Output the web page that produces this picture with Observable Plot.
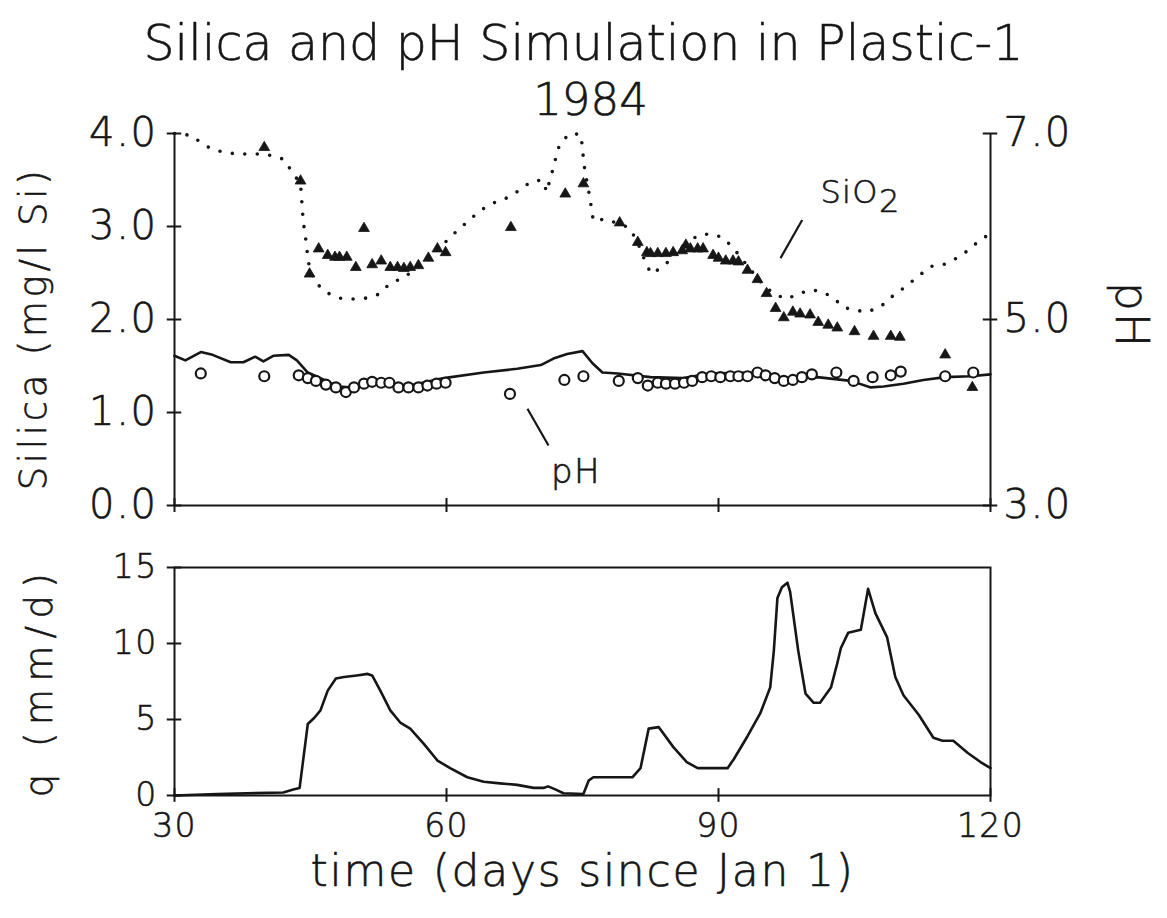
<!DOCTYPE html>
<html><head><meta charset="utf-8">
<script src="https://cdn.jsdelivr.net/npm/d3@7"></script>
<script src="https://cdn.jsdelivr.net/npm/@observablehq/plot@0.6"></script>
<style>
body{margin:0;background:#fff;width:1167px;height:918px;position:relative;overflow:hidden;font-family:"DejaVu Sans",sans-serif;color:#161616}
.hd{position:absolute;left:0;width:1167px;text-align:center;line-height:1;font-weight:200;z-index:2;-webkit-text-stroke:0.6px #161616}
#title{top:19px;font-size:49px}
#sub{top:77px;font-size:45px;padding-left:14px;box-sizing:border-box}
#topplot{position:absolute;left:0;top:110px;z-index:1}
#botplot{position:absolute;left:0;top:545px;z-index:1}
svg text{letter-spacing:0.04em;font-weight:200;stroke:#161616;stroke-width:0.6px}
</style></head>
<body>
<div id="topplot"></div>
<div id="botplot"></div>
<div id="title" class="hd">Silica and pH Simulation in Plastic-1</div>
<div id="sub" class="hd">1984</div>
<script>
// ---- data ----
const xTicks = [30, 60, 90, 120];
const siTicks = [0, 1, 2, 3, 4];
const phTicks = [3, 5, 7];
const qTicks = [0, 5, 10, 15];

// simulated SiO2 (mg/l Si), dotted
const siSimDay = [30,31.8,33.4,34.2,35.4,36.8,38.2,39.6,40.9,42.1,43.0,43.9,44.0,44.1,44.2,44.4,44.6,44.7,45.0,45.6,47.0,48.2,49.6,51.1,52.5,53.8,55.3,57.0,59.0,60.8,62.3,63.7,65.1,66.5,67.9,69.3,70.5,71.1,71.4,71.8,72.1,72.5,73.6,74.8,75.0,75.1,75.3,75.8,76.0,76.2,77.5,80.1,81.0,81.6,82.1,82.6,83.9,85.5,86.5,87.8,89.2,90.5,91.7,93.0,94.5,96.0,97.5,98.9,100.3,101.6,102.7,103.8,105.1,106.4,107.9,109.3,110.6,112.1,113.4,114.8,116.1,117.5,118.9,120];
const siSim    = [4.00,3.98,3.87,3.83,3.80,3.78,3.78,3.78,3.76,3.72,3.58,3.46,3.32,3.19,3.05,2.92,2.77,2.65,2.52,2.39,2.28,2.23,2.22,2.23,2.27,2.39,2.45,2.58,2.75,2.92,3.05,3.17,3.25,3.30,3.38,3.48,3.50,3.37,3.51,3.63,3.76,3.89,4.00,3.99,3.85,3.72,3.58,3.32,3.18,3.06,3.08,2.99,2.85,2.70,2.58,2.49,2.57,2.72,2.82,2.91,2.92,2.88,2.76,2.60,2.42,2.28,2.22,2.28,2.32,2.29,2.23,2.13,2.10,2.08,2.14,2.26,2.35,2.47,2.57,2.59,2.65,2.74,2.86,2.92];

// observed SiO2, triangles
const siObsDay = [39.9,43.9,44.9,45.9,46.9,47.7,48.2,49.0,50.0,50.9,51.8,52.8,53.8,54.6,55.3,56.0,56.9,58.0,59.0,59.9,67.1,73.1,75.1,79.1,81.1,82.1,82.5,83.3,84.2,85.0,86.0,86.4,86.9,87.7,88.3,89.4,90.0,90.8,91.6,92.2,93.2,94.3,95.3,96.3,97.2,98.2,99.0,100.1,101.0,102.1,103.1,105.0,107.1,109.0,110.0,115.0,118.0];
const siObs    = [3.85,3.49,2.49,2.76,2.69,2.67,2.67,2.67,2.56,2.98,2.59,2.63,2.56,2.56,2.55,2.56,2.58,2.66,2.76,2.72,2.99,3.35,3.46,3.04,2.83,2.72,2.71,2.71,2.71,2.72,2.74,2.80,2.76,2.76,2.76,2.69,2.66,2.63,2.63,2.62,2.53,2.43,2.28,2.12,2.02,2.08,2.06,2.05,1.97,1.94,1.91,1.87,1.82,1.82,1.81,1.62,1.27];

// simulated pH, solid
const phSimDay = [30,31.2,32.9,34.2,36.2,37.6,38.9,39.8,40.9,42.6,43.5,44.7,46.1,48.0,49.4,50.9,53.1,56.0,59.7,64.1,67.8,70.4,71.8,73.3,75.0,76.1,77.2,78.9,82.5,86.1,89.1,93.5,97.2,100.9,104.6,106.8,108.2,110.4,112.6,115.0,117.8,120];
const phSim    = [4.61,4.56,4.65,4.62,4.54,4.54,4.60,4.55,4.61,4.62,4.56,4.43,4.37,4.28,4.27,4.32,4.31,4.29,4.37,4.43,4.47,4.51,4.58,4.63,4.66,4.53,4.43,4.42,4.38,4.37,4.42,4.43,4.37,4.38,4.34,4.27,4.28,4.31,4.35,4.38,4.39,4.41];

// observed pH, circles
const phObsDay = [32.9,39.9,43.7,44.7,45.6,46.7,47.8,48.9,49.8,50.9,51.8,52.8,53.7,54.7,55.8,56.9,57.9,58.9,59.9,67.0,73.0,75.1,79.0,81.1,82.2,83.3,84.2,85.2,86.2,87.1,88.2,89.2,90.2,91.3,92.2,93.2,94.3,95.2,96.2,97.2,98.2,99.2,100.3,103.0,104.9,107.0,109.0,110.1,115.0,118.1];
const phObs    = [4.42,4.39,4.40,4.37,4.34,4.30,4.27,4.22,4.27,4.31,4.33,4.32,4.32,4.27,4.27,4.27,4.29,4.31,4.32,4.20,4.35,4.39,4.34,4.37,4.29,4.32,4.31,4.31,4.32,4.34,4.38,4.39,4.38,4.39,4.39,4.39,4.43,4.40,4.37,4.34,4.35,4.38,4.41,4.43,4.34,4.38,4.40,4.44,4.39,4.43];

// runoff q (mm/d)
const qDay = [30,34.7,42.0,43.1,43.8,44.7,45.4,46.1,46.9,47.8,48.7,50.1,51.3,51.8,52.7,53.8,54.9,56.0,57.5,59.0,60.4,62.3,64.1,65.9,67.8,69.6,70.7,71.2,72.0,72.9,75.1,75.7,76.2,80.5,81.4,82.3,83.4,85.0,86.5,87.7,89.1,91.0,91.7,93.2,94.6,95.7,96.1,96.5,97.0,97.6,97.9,98.8,99.6,100.5,101.2,102.4,103.1,103.5,104.3,105.7,106.5,107.3,108.6,109.5,110.4,112.1,113.7,114.7,115.9,117.5,118.9,120];
const qVal = [0,0.1,0.2,0.4,0.5,4.7,5.1,5.6,6.9,7.7,7.8,7.9,8.0,7.9,6.9,5.6,4.8,4.4,3.4,2.3,1.8,1.2,0.9,0.8,0.7,0.5,0.5,0.6,0.4,0.15,0.1,1.0,1.2,1.2,1.8,4.4,4.5,3.2,2.2,1.8,1.8,1.8,2.4,3.9,5.4,7.1,9.5,13.0,13.7,14.0,13.4,9.5,6.7,6.1,6.1,7.1,8.7,9.7,10.7,10.9,13.6,12.0,10.4,7.8,6.6,5.3,3.8,3.6,3.6,2.8,2.2,1.8];

// ---- tables ----
const siSimT = siSimDay.map((d,i)=>({day:d, v:siSim[i]}));
const siObsT = siObsDay.map((d,i)=>({day:d, v:siObs[i]}));
const phSimT = phSimDay.map((d,i)=>({day:d, v:phSim[i]}));
const phObsT = phObsDay.map((d,i)=>({day:d, v:phObs[i]}));
const qT = qDay.map((d,i)=>({day:d, v:qVal[i]}));

const INK = "#161616";
const FONT = "DejaVu Sans";
const phToY = v => v - 3; // pH axis (3–7) shares the silica scale (0–4)

function spaceText(chart, label, spacing) {
  d3.select(chart).selectAll("text")
    .filter(function() { return this.textContent === label; })
    .style("letter-spacing", spacing);
}

const topChart = Plot.plot({
  width: 1167, height: 420,
  marginTop: 23, marginBottom: 25, marginLeft: 174, marginRight: 177,
  style: {fontFamily: FONT, color: INK, background: "transparent", overflow: "visible"},
  x: {domain: [30, 120], axis: null},
  y: {domain: [0, 4]},
  marks: [
    Plot.ruleX([30, 120], {y1: 0, y2: 4, stroke: INK, strokeWidth: 2}),
    Plot.ruleY([0], {x1: 30, x2: 120, stroke: INK, strokeWidth: 2}),
    Plot.ruleY(siTicks, {y: d => d, x1: 29.2, x2: 30.8, stroke: INK, strokeWidth: 2}),
    Plot.ruleY(phTicks, {y: phToY, x1: 119.2, x2: 120.8, stroke: INK, strokeWidth: 2}),
    Plot.ruleX(xTicks, {x: d => d, y1: -0.075, y2: 0.075, stroke: INK, strokeWidth: 2}),
    Plot.axisY(siTicks, {anchor: "left", tickSize: 0, tickPadding: 17, fontSize: 40, tickFormat: d => d.toFixed(1), label: null}),
    Plot.axisY(phTicks.map(phToY), {anchor: "right", tickSize: 0, tickPadding: 13, fontSize: 40, tickFormat: d => (d + 3).toFixed(1), label: null}),
    Plot.text(["Silica (mg/l Si)"], {frameAnchor: "left", textAnchor: "middle", rotate: -90, dx: -140, dy: 9, fontSize: 37, fill: INK}),
    Plot.text(["pH"], {frameAnchor: "right", textAnchor: "middle", rotate: 90, dx: 140, dy: -4, fontSize: 46, fill: INK}),
    // simulated SiO2 – dotted
    Plot.line(siSimT, {x: "day", y: "v", stroke: INK, strokeWidth: 3.6, strokeDasharray: "0 12.5", strokeLinecap: "round"}),
    // simulated pH – solid
    Plot.line(phSimT, {x: "day", y: d => phToY(d.v), stroke: INK, strokeWidth: 2.6}),
    // observed pH – open circles
    Plot.dot(phObsT, {x: "day", y: d => phToY(d.v), r: 5, stroke: INK, strokeWidth: 2.2, fill: "white"}),
    // observed SiO2 – filled triangles
    Plot.dot(siObsT, {x: "day", y: "v", symbol: "triangle", r: 4, fill: INK, stroke: INK, strokeWidth: 0.8}),
    // annotations
    Plot.link([{x1: 99.23, y1: 3.07, x2: 96.84, y2: 2.66}], {x1: "x1", y1: "y1", x2: "x2", y2: "y2", stroke: INK, strokeWidth: 2.2}),
    Plot.text(["SiO"], {x: 101.25, y: 3.36, textAnchor: "start", lineAnchor: "middle", fontSize: 32, fill: INK}),
    Plot.text(["2"], {x: 107.7, y: 3.27, textAnchor: "start", lineAnchor: "middle", fontSize: 32, fill: INK}),
    Plot.link([{x1: 68.93, y1: 1.04, x2: 71.25, y2: 0.645}], {x1: "x1", y1: "y1", x2: "x2", y2: "y2", stroke: INK, strokeWidth: 2.2}),
    Plot.text(["pH"], {x: 74.28, y: 0.36, textAnchor: "middle", lineAnchor: "middle", fontSize: 34, fill: INK})
  ]
});
spaceText(topChart, "Silica (mg/l Si)", "0.1em");
document.getElementById("topplot").append(topChart);

const botChart = Plot.plot({
  width: 1167, height: 373,
  marginTop: 22, marginBottom: 123, marginLeft: 174, marginRight: 177,
  style: {fontFamily: FONT, color: INK, background: "transparent", overflow: "visible"},
  x: {domain: [30, 120]},
  y: {domain: [0, 15]},
  marks: [
    Plot.frame({stroke: INK, strokeWidth: 2}),
    Plot.ruleY(qTicks, {y: d => d, x1: 29.2, x2: 30.8, stroke: INK, strokeWidth: 2}),
    Plot.ruleX(xTicks, {x: d => d, y1: -0.45, y2: 0.45, stroke: INK, strokeWidth: 2}),
    Plot.axisY(qTicks, {anchor: "left", tickSize: 0, tickPadding: 17, fontSize: 33, label: null}),
    Plot.axisX(xTicks, {anchor: "bottom", tickSize: 0, tickPadding: 18, fontSize: 33, label: null}),
    Plot.text(["q (mm/d)"], {frameAnchor: "left", textAnchor: "middle", rotate: -90, dx: -134, fontSize: 37, fill: INK}),
    Plot.text(["time (days since Jan 1)"], {frameAnchor: "bottom", textAnchor: "middle", dy: 90, fontSize: 44, fill: INK}),
    Plot.line(qT, {x: "day", y: "v", stroke: INK, strokeWidth: 2.6})
  ]
});
spaceText(botChart, "q (mm/d)", "0.2em");
document.getElementById("botplot").append(botChart);
</script>
</body></html>
